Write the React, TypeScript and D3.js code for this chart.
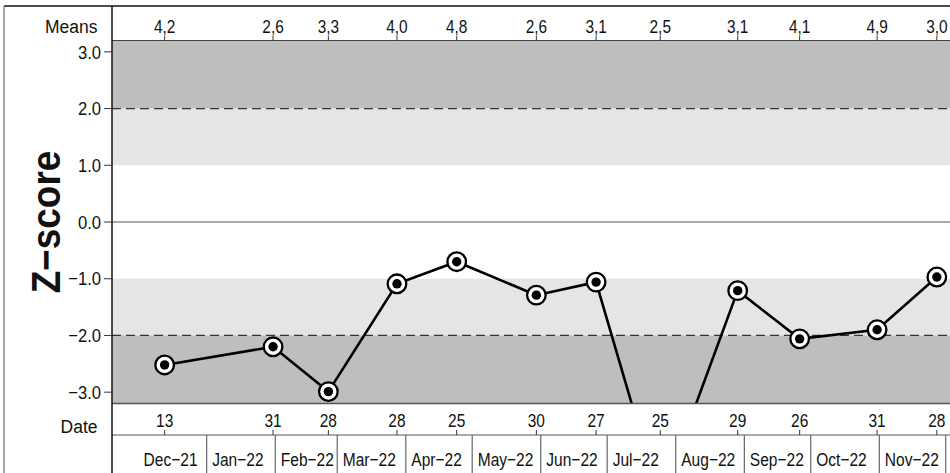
import React from "react";
import * as d3 from "d3";

// ---- data ----
const pointDates = [
  "2021-12-13", "2022-01-31", "2022-02-25", "2022-03-28", "2022-04-24", "2022-05-30",
  "2022-06-26", "2022-07-25", "2022-08-29", "2022-09-26", "2022-10-31", "2022-11-27",
];
const dayLabels = ["13", "31", "28", "28", "25", "30", "27", "25", "29", "26", "31", "28"];
const zScores = [-2.52, -2.2, -2.99, -1.09, -0.7, -1.29, -1.06, -4.92, -1.21, -2.06, -1.9, -0.97];
const means = [4.2, 2.6, 3.3, 4.0, 4.8, 2.6, 3.1, 2.5, 3.1, 4.1, 4.9, 3.0];
const monthStarts = [
  "2021-12-01", "2022-01-01", "2022-02-01", "2022-03-01", "2022-04-01", "2022-05-01",
  "2022-06-01", "2022-07-01", "2022-08-01", "2022-09-01", "2022-10-01", "2022-11-01", "2022-12-01",
];
const monthLabels = [
  "Dec\u221221", "Jan\u221222", "Feb\u221222", "Mar\u221222", "Apr\u221222", "May\u221222",
  "Jun\u221222", "Jul\u221222", "Aug\u221222", "Sep\u221222", "Oct\u221222", "Nov\u221222",
];
const yTicks = [-3, -2, -1, 0, 1, 2, 3];
const bands = [
  { from: 2, to: 3.2, fill: "#bebebe" },
  { from: 1, to: 2, fill: "#e5e5e5" },
  { from: -2, to: -1, fill: "#e5e5e5" },
  { from: -3.2, to: -2, fill: "#bebebe" },
];
const dashedLevels = [2, -2];

const W = 950;
const H = 473;
const plotL = 112;
const plotR = 950;
const plotT = 40.5;
const plotB = 403.5;
const FONT = "'Liberation Sans', Arial, Helvetica, sans-serif";

const parse = (s: string) => new Date(s + "T00:00:00Z");

function T(props: {
  x: number;
  y: number;
  size: number;
  sx?: number;
  anchor?: "start" | "middle" | "end";
  dy?: string;
  weight?: string;
  rotate?: number;
  children: React.ReactNode;
}) {
  const { x, y, size, sx = 0.86, anchor = "start", dy, weight, rotate = 0, children } = props;
  return (
    <text
      transform={`translate(${x},${y}) rotate(${rotate}) scale(${sx},1)`}
      textAnchor={anchor}
      fontSize={size}
      dy={dy}
      fontWeight={weight}
      fill="#111"
    >
      {children}
    </text>
  );
}

export default function App() {
  const x = d3
    .scaleUtc()
    .domain([new Date("2021-11-19T05:00:00Z"), new Date("2022-12-05T05:00:00Z")])
    .range([plotL, 955]);
  const y = d3.scaleLinear().domain([-3.2, 3.2]).range([plotB, plotT]);
  const commaLocale = d3.formatLocale({ decimal: ",", thousands: ".", grouping: [3], currency: ["", ""] });
  const fmtMean = commaLocale.format(".1f");
  const fmtY = d3.format(".1f");

  const pts = pointDates.map((d, i) => ({ date: parse(d), z: zScores[i], mean: means[i], label: dayLabels[i] }));
  const line = d3
    .line<{ date: Date; z: number }>()
    .x((d) => x(d.date))
    .y((d) => y(d.z));

  const months = monthStarts.map(parse);

  return (
    <svg
      width={W}
      height={H}
      style={{ position: "absolute", left: 0, top: 0, background: "#fff" }}
      fontFamily={FONT}
    >
      <defs>
        <clipPath id="plotclip">
          <rect x={plotL} y={plotT} width={plotR - plotL} height={plotB - plotT} />
        </clipPath>
      </defs>
      <rect x={0} y={0} width={W} height={H} fill="#fff" />

      {/* bands */}
      {bands.map((b, i) => (
        <rect key={i} x={plotL} y={y(b.to)} width={plotR - plotL} height={y(b.from) - y(b.to)} fill={b.fill} />
      ))}
      {/* zero line */}
      <line x1={plotL} x2={plotR} y1={y(0)} y2={y(0)} stroke="#555" strokeWidth={1.2} />
      {/* dashed */}
      {dashedLevels.map((v) => (
        <line key={v} x1={plotL} x2={plotR} y1={y(v)} y2={y(v)} stroke="#333" strokeWidth={1.2} strokeDasharray="9,5" />
      ))}

      {/* series */}
      <g clipPath="url(#plotclip)">
        <path d={line(pts) || ""} fill="none" stroke="#000" strokeWidth={2.6} />
        {pts.map((p, i) => (
          <g key={i}>
            <circle cx={x(p.date)} cy={y(p.z)} r={9.3} fill="#fff" stroke="#000" strokeWidth={2.3} />
            <circle cx={x(p.date)} cy={y(p.z)} r={4.7} fill="#000" />
          </g>
        ))}
      </g>

      {/* plot borders */}
      <line x1={plotL} x2={plotR} y1={plotT} y2={plotT} stroke="#444" strokeWidth={1.2} />
      <line x1={plotL} x2={plotR} y1={plotB} y2={plotB} stroke="#555" strokeWidth={1.5} />
      <line x1={plotL} x2={plotR} y1={435} y2={435} stroke="#555" strokeWidth={1.2} />

      {/* frame */}
      <line x1={4} x2={W} y1={6} y2={6} stroke="#111" strokeWidth={1.5} />
      <line x1={4} x2={4} y1={6} y2={H} stroke="#888" strokeWidth={1.5} />
      <line x1={plotL} x2={plotL} y1={6} y2={H} stroke="#111" strokeWidth={1.5} />

      {/* y axis */}
      {yTicks.map((t) => (
        <g key={t}>
          <line x1={104} x2={plotL} y1={y(t)} y2={y(t)} stroke="#333" strokeWidth={1} />
          <T x={101} y={y(t)} dy="0.36em" anchor="end" size={18.5} sx={0.9}>
            {fmtY(t)}
          </T>
        </g>
      ))}
      <T x={60} y={222} rotate={-90} anchor="middle" size={41} sx={0.9} weight="bold">
        {"Z\u2212score"}
      </T>

      {/* means row */}
      <T x={97.5} y={33} anchor="end" size={19} sx={0.92}>
        Means
      </T>
      {pts.map((p, i) => (
        <g key={i}>
          <line x1={x(p.date)} x2={x(p.date)} y1={36} y2={plotT} stroke="#333" strokeWidth={1} />
          <T x={x(p.date)} y={33} anchor="middle" size={17.5} sx={0.88}>
            {fmtMean(p.mean)}
          </T>
        </g>
      ))}

      {/* date row */}
      <T x={97.5} y={433} anchor="end" size={19} sx={0.92}>
        Date
      </T>
      {pts.map((p, i) => (
        <g key={i}>
          <line x1={x(p.date)} x2={x(p.date)} y1={430} y2={435} stroke="#333" strokeWidth={1} />
          <T x={x(p.date)} y={426.5} anchor="middle" size={18} sx={0.86}>
            {p.label}
          </T>
        </g>
      ))}

      {/* month row */}
      {months.slice(1).map((m, i) => (
        <line key={i} x1={x(m)} x2={x(m)} y1={435} y2={H} stroke="#666" strokeWidth={1.2} />
      ))}
      {monthLabels.map((lab, i) => (
        <T key={i} x={x(months[i]) + 5.5} y={466} anchor="start" size={18.5} sx={0.84}>
          {lab}
        </T>
      ))}
    </svg>
  );
}
